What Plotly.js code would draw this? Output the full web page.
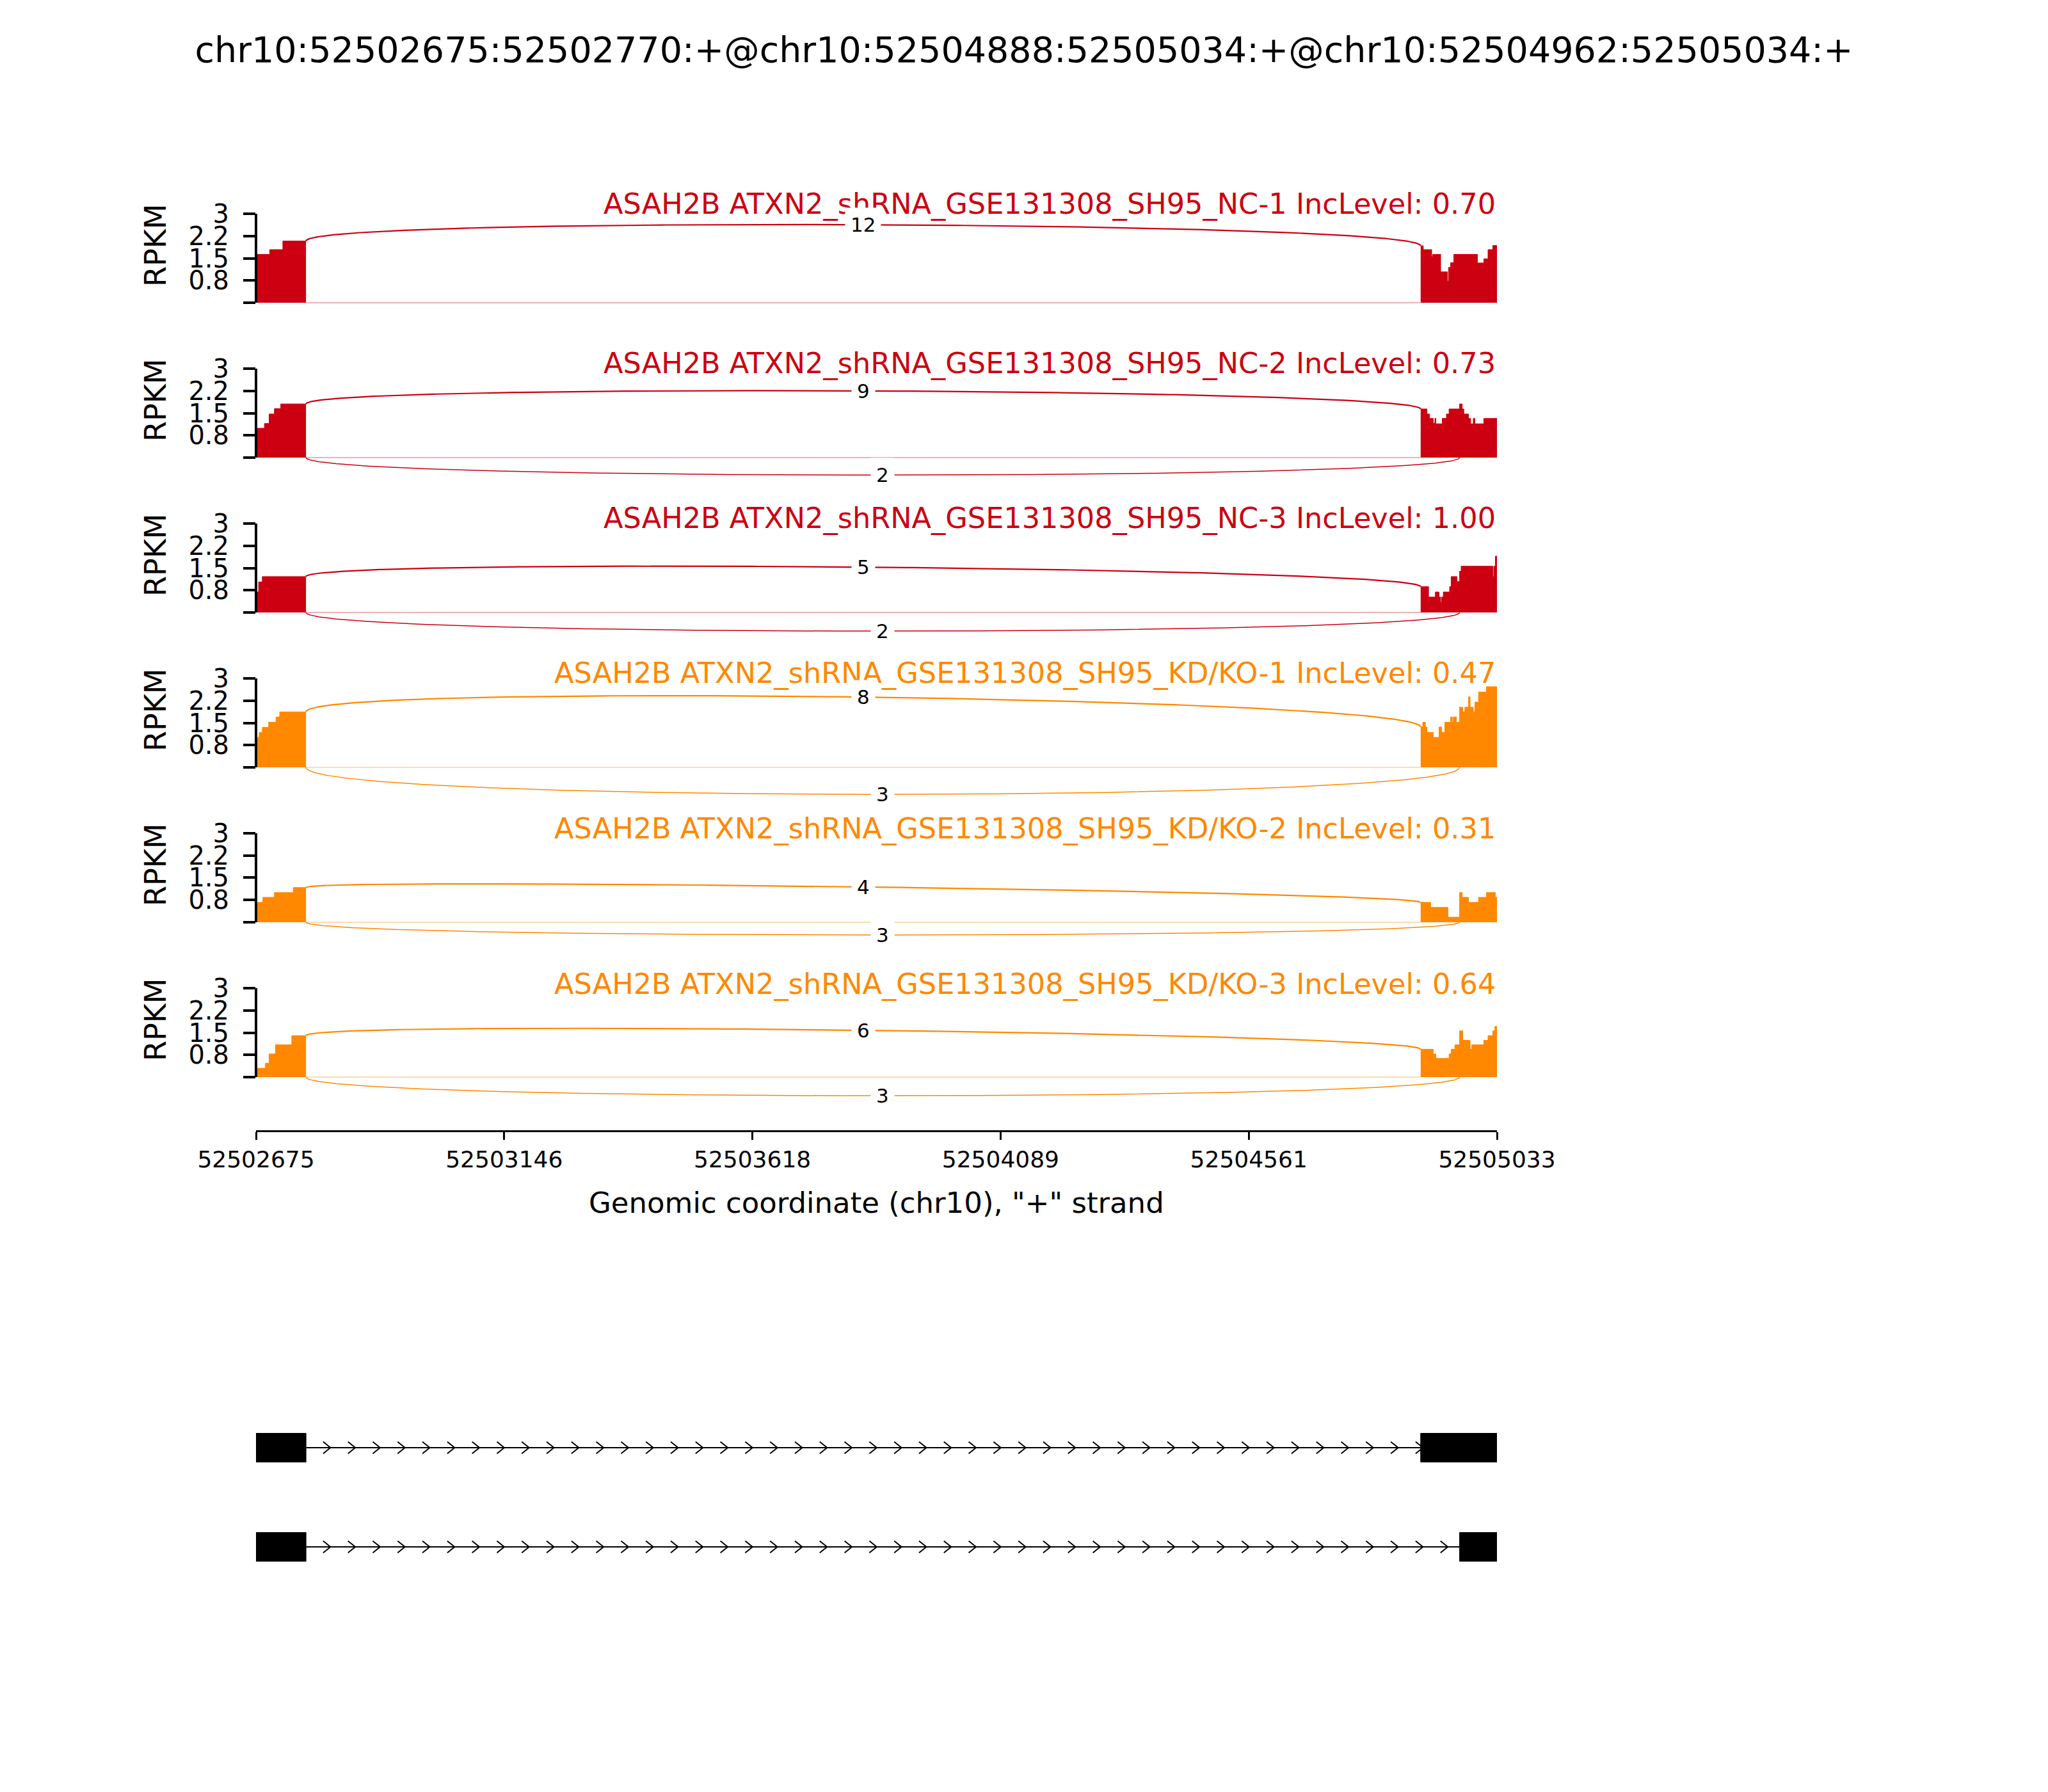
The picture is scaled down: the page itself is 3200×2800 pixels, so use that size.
<!DOCTYPE html>
<html><head><meta charset="utf-8">
<script src="https://cdn.plot.ly/plotly-3.0.1.min.js"></script>
<style>body{margin:0;background:#fff}</style>
</head><body><div id="chart" style="width:3200px;height:2800px"></div>
<script>
// ---------------- data ----------------
const chartTitle = "chr10:52502675:52502770:+@chr10:52504888:52505034:+@chr10:52504962:52505034:+";
const sampleNames = [
  "ASAH2B ATXN2_shRNA_GSE131308_SH95_NC-1 IncLevel: 0.70",
  "ASAH2B ATXN2_shRNA_GSE131308_SH95_NC-2 IncLevel: 0.73",
  "ASAH2B ATXN2_shRNA_GSE131308_SH95_NC-3 IncLevel: 1.00",
  "ASAH2B ATXN2_shRNA_GSE131308_SH95_KD/KO-1 IncLevel: 0.47",
  "ASAH2B ATXN2_shRNA_GSE131308_SH95_KD/KO-2 IncLevel: 0.31",
  "ASAH2B ATXN2_shRNA_GSE131308_SH95_KD/KO-3 IncLevel: 0.64"
];
const sampleGroup = [0, 0, 0, 1, 1, 1];
const groupColors = ["#CC0011", "#FF8800"];

const regionStart = 52502675;
const regionEnd = 52505034;
const upExon = [52502675, 52502770];
const inclExon = [52504888, 52505034];
const skipExon = [52504962, 52505034];

// coverage steps: offsets (bp) from exon start, RPKM value of each step
const upCovPos = [
  [0, 26, 51],
  [0, 16, 25, 35, 47],
  [0, 5, 12],
  [0, 6, 12, 24, 38, 45],
  [0, 13, 35, 71],
  [0, 18, 25, 37, 68]
];
const upCovVal = [
  [1.63, 1.79, 2.08],
  [0.99, 1.15, 1.47, 1.65, 1.81],
  [0.69, 1.03, 1.21],
  [1.01, 1.18, 1.35, 1.52, 1.70, 1.87],
  [0.67, 0.84, 1.00, 1.17],
  [0.30, 0.47, 0.78, 1.09, 1.40]
];
const downCovPos = [
  [0, 5, 21, 23, 38, 51, 53, 57, 63, 108, 120, 128, 137],
  [0, 12, 17, 24, 27, 29, 41, 49, 54, 74, 79, 82, 91, 95, 100, 103, 120],
  [0, 15, 28, 35, 38, 40, 43, 55, 58, 69, 74, 77, 137, 139, 142],
  [0, 4, 9, 12, 24, 35, 40, 46, 57, 60, 62, 68, 74, 80, 84, 91, 94, 100, 103, 110, 125],
  [0, 19, 52, 74, 79, 91, 110, 125, 142],
  [0, 24, 29, 54, 58, 65, 74, 80, 94, 97, 120, 128, 137, 141]
];
const downCovVal = [
  [1.92, 1.79, 1.55, 1.63, 1.04, 0.73, 1.19, 1.35, 1.63, 1.34, 1.48, 1.79, 1.93],
  [1.64, 1.47, 1.32, 1.16, 1.32, 1.14, 1.32, 1.47, 1.64, 1.81, 1.64, 1.47, 1.32, 1.14, 1.32, 1.14, 1.32],
  [0.87, 0.52, 0.69, 0.52, 0.34, 0.52, 0.69, 0.87, 1.21, 1.04, 1.39, 1.56, 1.21, 1.56, 1.90],
  [1.36, 1.52, 1.36, 1.18, 1.01, 1.36, 1.18, 1.52, 1.70, 1.52, 1.70, 1.52, 2.03, 1.87, 2.03, 2.38, 2.03, 1.87, 2.20, 2.54, 2.72],
  [0.67, 0.50, 0.17, 1.00, 0.84, 0.67, 0.84, 1.00, 0.84],
  [0.94, 0.78, 0.63, 0.78, 0.94, 1.09, 1.56, 1.24, 0.94, 1.09, 1.24, 1.40, 1.56, 1.71]
];

// junction read counts and arc apex heights (RPKM units)
const inclCounts = [12, 9, 5, 8, 4, 6];
const inclApex = [2.63, 2.25, 1.53, 2.37, 1.19, 1.58];
const skipCounts = [null, 2, 2, 3, 3, 3];
const skipApex = [null, -0.59, -0.63, -0.91, -0.43, -0.63];

const yTickVals = [0, 0.75, 1.5, 2.25, 3];
const yTickText = ["", "0.8", "1.5", "2.2", "3"];
const xTickText = ["52502675", "52503146", "52503618", "52504089", "52504561", "52505033"];
const xAxisTitle = 'Genomic coordinate (chr10), "+" strand';

const isoformExons = [
  [[52502675, 52502770], [52504888, 52505034]],
  [[52502675, 52502770], [52504962, 52505034]]
];

// ---------------- layout constants ----------------
const W = 3200, H = 2800, L = 400, R = 2339;
const panelTop0 = 334, panelStep = 242, pxPerUnit = 46.33, yMin = -1.3;
const titleOffsets = [-15, -8, -8, -8, -7, -6];
const FONT = "DejaVu Sans";
const py = px => 1 - px / H;
const px2x = px => (px - L) / (R - L);

const traces = [];
const layout = {
  width: W, height: H,
  margin: {l: L, r: W - R, t: 0, b: 0, pad: 0},
  paper_bgcolor: "white", plot_bgcolor: "rgba(0,0,0,0)",
  showlegend: false,
  font: {family: FONT, color: "black"},
  title: {text: chartTitle, font: {family: FONT, size: 55.5, color: "black"},
          x: 0.5, xref: "container", xanchor: "center",
          y: 1 - 78 / H, yref: "container", yanchor: "middle"},
  annotations: [], shapes: []
};

const nTicks = xTickText.length;
const tickLast = regionEnd - 1;
const xTickVals = xTickText.map((_, k) => regionStart + k * (tickLast - regionStart) / (nTicks - 1));
const xAxisPx = 1767;
layout.xaxis = {
  range: [regionStart, tickLast], domain: [0, 1],
  anchor: "free", position: py(xAxisPx),
  showline: true, linewidth: 3, linecolor: "black",
  ticks: "outside", ticklen: 12, tickwidth: 3, tickcolor: "black",
  tickmode: "array", tickvals: xTickVals, ticktext: xTickText,
  tickfont: {family: FONT, size: 36, color: "black"},
  showgrid: false, zeroline: false, fixedrange: true
};
layout.annotations.push({
  text: xAxisTitle, xref: "paper", yref: "paper", x: 0.5, y: py(1879),
  xanchor: "center", yanchor: "middle", showarrow: false,
  font: {family: FONT, size: 45, color: "black"}
});

function bezier(p, n) {
  const xs = [], ys = [];
  for (let k = 0; k <= n; k++) {
    const t = k / n, u = 1 - t;
    const a = u*u*u, b = 3*u*u*t, c = 3*u*t*t, d = t*t*t;
    xs.push(a*p[0][0] + b*p[1][0] + c*p[2][0] + d*p[3][0]);
    ys.push(a*p[0][1] + b*p[1][1] + c*p[2][1] + d*p[3][1]);
  }
  return [xs, ys];
}

function stepTrace(start, end, pos, val, yref, color) {
  const x = [], y = [];
  pos.forEach((p, k) => { x.push(start + p); y.push(val[k]); });
  x.push(end); y.push(val[val.length - 1]);
  return {type: "scatter", mode: "lines", x, y, xaxis: "x", yaxis: yref,
          line: {shape: "hv", width: 1, color}, fill: "tozeroy", fillcolor: color,
          hoverinfo: "skip"};
}

for (let i = 0; i < sampleNames.length; i++) {
  const color = groupColors[sampleGroup[i]];
  const yref = i === 0 ? "y" : "y" + (i + 1);
  const key = i === 0 ? "yaxis" : "yaxis" + (i + 1);
  const top = panelTop0 + panelStep * i;
  const bottom = top + (3 - yMin) * pxPerUnit;
  layout[key] = {
    domain: [py(bottom), py(top)], range: [yMin, 3], anchor: "x",
    tickmode: "array", tickvals: yTickVals, ticktext: yTickText,
    ticks: "outside", ticklen: 19, tickwidth: 4, tickcolor: "black",
    ticklabelstandoff: 14,
    tickfont: {family: FONT, size: 40, color: "black"},
    showgrid: false, zeroline: false, showline: false, fixedrange: true
  };
  layout.shapes.push({type: "line", xref: "paper", yref, x0: 0, x1: 0, y0: 0, y1: 3,
                      line: {color: "black", width: 4}});
  layout.annotations.push({text: "RPKM", xref: "paper", yref: "paper",
    x: px2x(243), y: py(top + 49), xanchor: "center", yanchor: "middle",
    textangle: -90, showarrow: false, font: {family: FONT, size: 46, color: "black"}});
  layout.annotations.push({text: sampleNames[i], xref: "paper", yref: "paper",
    x: 1, y: py(top + titleOffsets[i]), xanchor: "right", yanchor: "middle",
    showarrow: false, font: {family: FONT, size: 44.6, color}});

  traces.push({type: "scatter", mode: "lines", x: [upExon[1], inclExon[0]], y: [0, 0],
    xaxis: "x", yaxis: yref, line: {color, width: 2}, opacity: 0.3, hoverinfo: "skip"});
  traces.push(stepTrace(upExon[0], upExon[1], upCovPos[i], upCovVal[i], yref, color));
  traces.push(stepTrace(inclExon[0], inclExon[1], downCovPos[i], downCovVal[i], yref, color));

  const ld = upCovVal[i][upCovVal[i].length - 1];
  const rd = downCovVal[i][0];
  const h = (inclApex[i] - (ld + rd) / 2) * 4 / 3;
  const ss1 = upExon[1], ss2 = inclExon[0];
  let [bx, by] = bezier([[ss1, ld], [ss1, ld + h], [ss2, rd + h], [ss2, rd]], 300);
  traces.push({type: "scatter", mode: "lines", x: bx, y: by, xaxis: "x", yaxis: yref,
    line: {color, width: 2.2}, hoverinfo: "skip"});
  layout.annotations.push({text: String(inclCounts[i]), xref: "x", yref,
    x: (ss1 + ss2) / 2, y: inclApex[i], xanchor: "center", yanchor: "middle",
    showarrow: false, bgcolor: "white", borderpad: 8,
    font: {family: FONT, size: 31, color: "black"}});

  if (skipCounts[i] !== null) {
    const s2 = skipExon[0];
    const hh = skipApex[i] * 4 / 3;
    [bx, by] = bezier([[ss1, 0], [ss1, hh], [s2, hh], [s2, 0]], 300);
    traces.push({type: "scatter", mode: "lines", x: bx, y: by, xaxis: "x", yaxis: yref,
      line: {color, width: 1.5}, hoverinfo: "skip"});
    layout.annotations.push({text: String(skipCounts[i]), xref: "x", yref,
      x: (ss1 + s2) / 2, y: skipApex[i], xanchor: "center", yanchor: "middle",
      showarrow: false, bgcolor: "white", borderpad: 8,
      font: {family: FONT, size: 31, color: "black"}});
  }
}

// ---------------- gene structure ----------------
const gy = "y7";
layout.xaxis2 = {range: [regionStart, tickLast], domain: [0, 1], anchor: gy,
                 visible: false, fixedrange: true};
layout.yaxis7 = {range: [-1.5, 0.5], domain: [py(2494.5), py(2184.5)], anchor: "x2",
                 visible: false, fixedrange: true};
const exonHalf = 0.145, arrowHalf = 0.06, nArrows = 50, arrowSpread = 14;
isoformExons.forEach((exons, j) => {
  const yc = -j;
  for (let k = 0; k < exons.length - 1; k++) {
    const xs = exons[k][1], xe = exons[k + 1][0];
    traces.push({type: "scatter", mode: "lines", x: [xs, xe], y: [yc, yc],
      xaxis: "x2", yaxis: gy, line: {color: "black", width: 2}, hoverinfo: "skip"});
    const ax = [], ay = [];
    for (let a = 0; a < nArrows; a++) {
      const loc = regionStart + a * (regionEnd - regionStart) / nArrows;
      if (loc - arrowSpread >= xs && loc - arrowSpread <= xe) {
        ax.push(loc - arrowSpread, loc, loc - arrowSpread, null);
        ay.push(yc - arrowHalf, yc, yc + arrowHalf, null);
      }
    }
    traces.push({type: "scatter", mode: "lines", x: ax, y: ay, xaxis: "x2", yaxis: gy,
      line: {color: "black", width: 2}, hoverinfo: "skip"});
  }
  exons.forEach(([s, e]) => {
    traces.push({type: "scatter", mode: "lines", x: [s, e, e, s, s],
      y: [yc - exonHalf, yc - exonHalf, yc + exonHalf, yc + exonHalf, yc - exonHalf],
      xaxis: "x2", yaxis: gy, fill: "toself", fillcolor: "black",
      line: {color: "black", width: 1}, hoverinfo: "skip"});
  });
});

Plotly.newPlot("chart", traces, layout, {staticPlot: true});
</script>
</body></html>
